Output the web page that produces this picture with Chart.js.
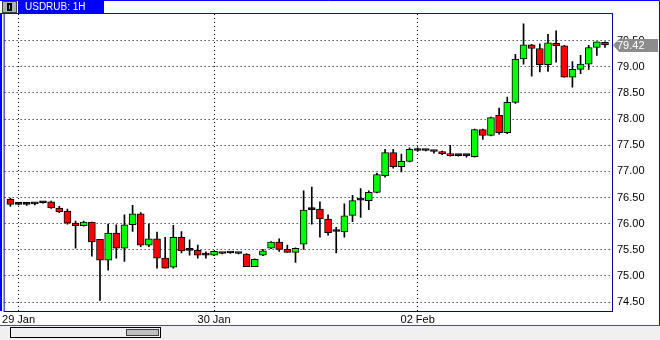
<!DOCTYPE html>
<html>
<head>
<meta charset="utf-8">
<title>USDRUB 1H</title>
<script src="https://cdn.jsdelivr.net/npm/chart.js@4.4.1/dist/chart.umd.min.js"></script>
<style>
    html, body { margin: 0; padding: 0; background: #fff; }
    canvas { display: block; }
</style>
</head>
<body>
<canvas id="chart" width="660" height="340"></canvas>
<script>
// USDRUB hourly candles
const opens  = [76.47, 76.37, 76.37, 76.38, 76.40, 76.42, 76.30, 76.24, 76.01, 75.96,
                76.03, 75.70, 75.30, 75.82, 75.53, 75.98, 76.19, 75.59, 75.71, 75.34,
                75.17, 75.74, 75.49, 75.49, 75.40, 75.40, 75.43, 75.44, 75.43, 75.42,
                75.18, 75.40, 75.53, 75.65, 75.51, 75.45, 75.61, 76.27, 76.28, 76.09,
                75.85, 75.84, 76.16, 76.45, 76.44, 76.60, 76.92, 77.36, 77.09, 77.19,
                77.40, 77.40, 77.38, 77.38, 77.34, 77.30, 77.30, 77.28, 77.80, 77.69,
                78.07, 77.74, 78.32, 79.15, 79.42, 79.35, 79.04, 79.45, 79.40, 78.80,
                78.95, 79.05, 79.37, 79.47];
const highs  = [76.49, 76.38, 76.38, 76.40, 76.42, 76.43, 76.33, 76.28, 76.05, 76.05,
                76.03, 75.70, 75.99, 75.98, 76.17, 76.35, 76.21, 75.99, 75.84, 75.74,
                75.97, 75.85, 75.69, 75.59, 75.46, 75.48, 75.44, 75.45, 75.44, 75.43,
                75.33, 75.51, 75.66, 75.71, 75.59, 75.54, 76.63, 76.70, 76.42, 76.17,
                75.93, 76.38, 76.54, 76.67, 76.63, 76.97, 77.42, 77.42, 77.33, 77.45,
                77.45, 77.41, 77.39, 77.39, 77.50, 77.31, 77.31, 77.81, 77.81, 78.04,
                78.21, 78.42, 79.24, 79.82, 79.43, 79.44, 79.62, 79.69, 79.41, 79.10,
                79.22, 79.41, 79.48, 79.48];
const lows   = [76.33, 76.36, 76.35, 76.36, 76.39, 76.29, 76.21, 75.99, 75.53, 75.95,
                75.38, 74.53, 75.11, 75.34, 75.28, 75.85, 75.56, 75.56, 75.15, 75.15,
                75.15, 75.44, 75.40, 75.34, 75.34, 75.39, 75.42, 75.43, 75.42, 75.18,
                75.18, 75.39, 75.52, 75.47, 75.45, 75.26, 75.51, 75.99, 75.74, 75.78,
                75.44, 75.74, 76.04, 76.12, 76.27, 76.59, 76.89, 77.06, 76.99, 77.18,
                77.38, 77.39, 77.35, 77.32, 77.29, 77.29, 77.27, 77.27, 77.61, 77.68,
                77.71, 77.72, 78.30, 79.05, 78.82, 78.90, 78.91, 79.09, 78.80, 78.61,
                78.87, 78.95, 79.22, 79.37];
const closes = [76.37, 76.37, 76.37, 76.38, 76.40, 76.30, 76.23, 76.01, 75.96, 76.03,
                75.65, 75.30, 75.82, 75.53, 75.98, 76.19, 75.59, 75.71, 75.34, 75.15,
                75.74, 75.48, 75.49, 75.40, 75.40, 75.47, 75.43, 75.44, 75.43, 75.18,
                75.32, 75.48, 75.65, 75.51, 75.45, 75.53, 76.26, 76.27, 76.09, 75.83,
                75.85, 76.15, 76.44, 76.45, 76.60, 76.94, 77.36, 77.09, 77.19, 77.42,
                77.40, 77.40, 77.38, 77.34, 77.30, 77.30, 77.30, 77.80, 77.69, 78.03,
                77.74, 78.32, 79.15, 79.42, 79.35, 79.04, 79.46, 79.40, 78.80, 78.95,
                79.05, 79.37, 79.48, 79.42];

// day labels sit on the first hour of each day
const dayTickIndex  = [1, 25, 50];
const dayTickLabels = ['29 Jan', '30 Jan', '02 Feb'];

// price axis ticks
const priceTicks = [74.5, 75, 75.5, 76, 76.5, 77, 77.5, 78, 78.5, 79, 79.5];

const symbolTitle = 'USDRUB: 1H';

const axisFont = { family: '"Liberation Sans", Arial, sans-serif', size: 11 };

// Window chrome: title tab, frame, scroll bar and last price marker
const chromePlugin = {
    id: 'chrome',
    beforeDraw(chart) {
        const ctx = chart.ctx;
        ctx.save();
        ctx.fillStyle = '#ffffff';
        ctx.fillRect(0, 0, chart.width, chart.height);
        ctx.fillStyle = '#f0f0f0';
        ctx.fillRect(0, 326, chart.width, chart.height - 326);
        ctx.restore();
    },
    afterDraw(chart) {
        const ctx = chart.ctx;
        const a = chart.chartArea;
        ctx.save();

        // plot border
        ctx.strokeStyle = '#0000a8';
        ctx.lineWidth = 1;
        ctx.strokeRect(a.left - 0.5, a.top - 0.5, a.right - a.left + 1, a.bottom - a.top + 1);
        ctx.strokeStyle = '#0000ff';
        ctx.beginPath();
        ctx.moveTo(0, a.top - 0.5);
        ctx.lineTo(a.right + 1, a.top - 0.5);
        ctx.stroke();
        ctx.fillStyle = '#0000ff';
        ctx.fillRect(0, a.top, 2, a.bottom - a.top);

        // outer frame
        ctx.strokeStyle = '#0000ff';
        ctx.beginPath();
        ctx.moveTo(0, 0.5);
        ctx.lineTo(659.5, 0.5);
        ctx.lineTo(659.5, 325.5);
        ctx.stroke();
        ctx.strokeStyle = '#2a5aa8';
        ctx.beginPath();
        ctx.moveTo(0, 325.5);
        ctx.lineTo(660, 325.5);
        ctx.stroke();

        // title tab
        ctx.fillStyle = '#0000ff';
        ctx.fillRect(18, 0, 86, 14);
        ctx.fillStyle = '#b0b0b0';
        ctx.fillRect(2, 1, 15, 12);
        ctx.strokeStyle = '#404040';
        ctx.strokeRect(2.5, 1.5, 14, 11);
        ctx.fillStyle = '#000';
        ctx.fillRect(7, 3, 5, 8);
        ctx.fillStyle = '#b0b0b0';
        ctx.fillRect(9, 5, 1, 4);
        ctx.fillStyle = '#ffffff';
        ctx.font = '10px "Liberation Sans", Arial, sans-serif';
        ctx.textBaseline = 'middle';
        ctx.textAlign = 'left';
        ctx.fillText(symbolTitle, 25, 7.5);

        // scroll bar
        ctx.fillStyle = '#f0f0f0';
        ctx.fillRect(10, 327, 150, 10);
        ctx.strokeStyle = '#000';
        ctx.strokeRect(10.5, 327.5, 150, 10);
        ctx.fillStyle = '#c0c0c0';
        ctx.fillRect(126, 329, 32, 6);
        ctx.strokeStyle = '#404040';
        ctx.strokeRect(126.5, 329.5, 32, 6);

        // last price marker
        const last = closes[closes.length - 1];
        const y = Math.round(chart.scales.y.getPixelForValue(last));
        ctx.fillStyle = '#8c8c8c';
        ctx.beginPath();
        ctx.moveTo(a.right + 1, y);
        ctx.lineTo(a.right + 7, y - 6);
        ctx.lineTo(658, y - 6);
        ctx.lineTo(658, y + 7);
        ctx.lineTo(a.right + 7, y + 7);
        ctx.closePath();
        ctx.fill();
        ctx.fillStyle = '#ffffff';
        ctx.font = '11px "Liberation Sans", Arial, sans-serif';
        ctx.textBaseline = 'middle';
        ctx.fillText(last.toFixed(2), a.right + 5, y + 1);

        ctx.restore();
    }
};

const bodies = opens.map((o, i) => ({ x: i, y: [o, closes[i]] }));
const wicks = lows.map((l, i) => ({ x: i, y: [l, highs[i]] }));

new Chart(document.getElementById('chart'), {
    type: 'bar',
    data: {
        datasets: [{
            label: 'Body',
            data: bodies,
            order: 0,
            grouped: false,
            barThickness: 7,
            minBarLength: 2,
            borderWidth: 1,
            borderColor: '#000000',
            borderSkipped: false,
            backgroundColor: ctx => {
                const i = ctx.dataIndex;
                if (closes[i] === opens[i]) return '#000000';
                return closes[i] > opens[i] ? '#00ff00' : '#ff0000';
            }
        }, {
            label: 'Wick',
            data: wicks,
            order: 1,
            grouped: false,
            barThickness: 1,
            borderWidth: 0,
            backgroundColor: '#000000'
        }]
    },
    options: {
        responsive: false,
        devicePixelRatio: 1,
        animation: false,
        layout: {
            padding: { top: 14, left: 2, right: 0, bottom: 15 }
        },
        plugins: {
            legend: { display: false },
            tooltip: { enabled: false }
        },
        scales: {
            x: {
                type: 'linear',
                min: -0.71,
                max: 73.86,
                offset: false,
                grid: { color: '#000000', drawTicks: false, offset: false },
                border: { display: false, dash: [1, 3] },
                ticks: {
                    color: '#000000',
                    font: axisFont,
                    padding: 2,
                    maxRotation: 0,
                    autoSkip: false,
                    callback: v => {
                        const k = dayTickIndex.indexOf(v);
                        return k >= 0 ? dayTickLabels[k] : '';
                    }
                },
                afterBuildTicks: scale => {
                    scale.ticks = dayTickIndex.map(v => ({ value: v }));
                },
                afterFit: scale => { scale.height = 14; }
            },
            y: {
                position: 'right',
                min: 74.33,
                max: 80.01,
                grid: { color: '#000000', drawTicks: false },
                border: { display: false, dash: [1, 3] },
                ticks: {
                    color: '#000000',
                    font: axisFont,
                    padding: 5,
                    callback: v => v.toFixed(2)
                },
                afterBuildTicks: scale => {
                    scale.ticks = priceTicks.map(v => ({ value: v }));
                },
                afterFit: scale => { scale.width = 48; }
            }
        }
    },
    plugins: [chromePlugin]
});
</script>
</body>
</html>
